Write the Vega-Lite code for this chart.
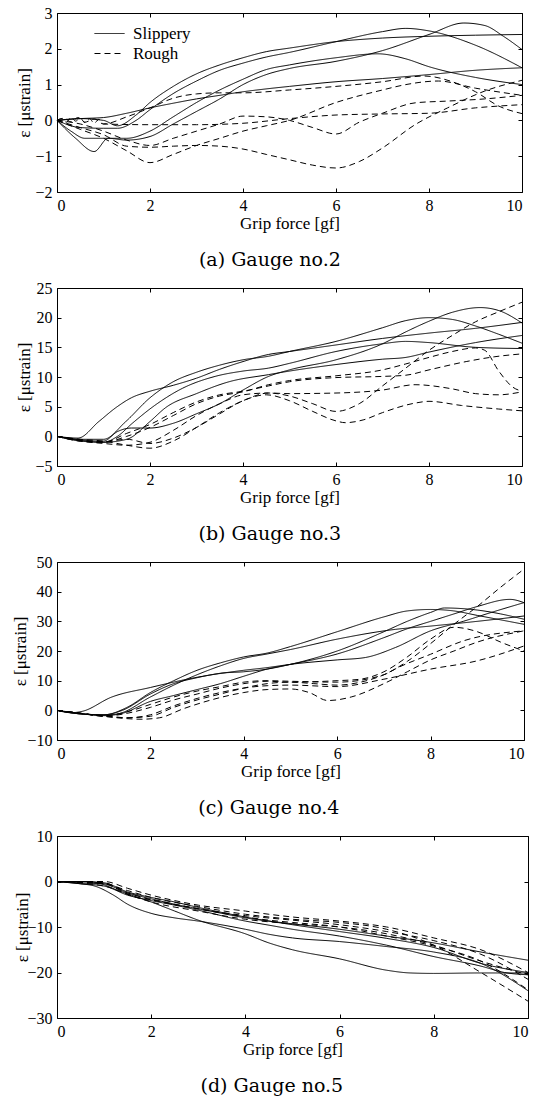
{
"$schema":"https://vega.github.io/schema/vega-lite/v6.json",
"background":"white",
"padding":{"left":10,"top":4,"right":5,"bottom":5},
"config":{
"font":"Liberation Serif",
"view":{"stroke":"black","strokeWidth":1},
"axis":{"grid":false,"domain":false,"tickColor":"black","tickSize":4,"offset":-4,"labelFont":"Liberation Serif","labelFontSize":16,"labelColor":"black","titleFont":"Liberation Serif","titleFontSize":17,"titleFontWeight":"normal","titleColor":"black","labelPadding":5},
"title":{"font":"DejaVu Serif","fontSize":19,"fontWeight":"normal","orient":"bottom","frame":"bounds","offset":20,"color":"black"},
"line":{"color":"black","strokeWidth":1,"interpolate":"monotone"}
},
"datasets":{
"p1":[
{"s":"a1","t":"Slippery","x":0,"y":0},{"s":"a1","t":"Slippery","x":0.4,"y":-0.5},{"s":"a1","t":"Slippery","x":0.8,"y":-0.87},{"s":"a1","t":"Slippery","x":1.1,"y":-0.5},{"s":"a1","t":"Slippery","x":1.5,"y":-0.55},{"s":"a1","t":"Slippery","x":2,"y":-0.45},{"s":"a1","t":"Slippery","x":2.5,"y":-0.1},{"s":"a1","t":"Slippery","x":3,"y":0.25},{"s":"a1","t":"Slippery","x":3.5,"y":0.6},{"s":"a1","t":"Slippery","x":4,"y":1.0},{"s":"a1","t":"Slippery","x":4.5,"y":1.28},{"s":"a1","t":"Slippery","x":5,"y":1.45},{"s":"a1","t":"Slippery","x":6,"y":1.65},{"s":"a1","t":"Slippery","x":7,"y":1.95},{"s":"a1","t":"Slippery","x":8,"y":2.4},{"s":"a1","t":"Slippery","x":8.75,"y":2.72},{"s":"a1","t":"Slippery","x":9.2,"y":2.65},{"s":"a1","t":"Slippery","x":9.6,"y":2.35},{"s":"a1","t":"Slippery","x":10,"y":1.98},
{"s":"a2","t":"Slippery","x":0,"y":0},{"s":"a2","t":"Slippery","x":0.5,"y":-0.2},{"s":"a2","t":"Slippery","x":1,"y":-0.22},{"s":"a2","t":"Slippery","x":1.3,"y":-0.22},{"s":"a2","t":"Slippery","x":1.7,"y":0.0},{"s":"a2","t":"Slippery","x":2,"y":0.3},{"s":"a2","t":"Slippery","x":2.5,"y":0.75},{"s":"a2","t":"Slippery","x":3,"y":1.1},{"s":"a2","t":"Slippery","x":3.5,"y":1.4},{"s":"a2","t":"Slippery","x":4,"y":1.6},{"s":"a2","t":"Slippery","x":4.5,"y":1.77},{"s":"a2","t":"Slippery","x":5,"y":1.9},{"s":"a2","t":"Slippery","x":6,"y":2.2},{"s":"a2","t":"Slippery","x":7,"y":2.48},{"s":"a2","t":"Slippery","x":7.5,"y":2.57},{"s":"a2","t":"Slippery","x":8,"y":2.5},{"s":"a2","t":"Slippery","x":9,"y":2.1},{"s":"a2","t":"Slippery","x":10,"y":1.47},
{"s":"a3","t":"Slippery","x":0,"y":0},{"s":"a3","t":"Slippery","x":0.5,"y":0.05},{"s":"a3","t":"Slippery","x":1,"y":0.0},{"s":"a3","t":"Slippery","x":1.3,"y":-0.15},{"s":"a3","t":"Slippery","x":1.7,"y":0.15},{"s":"a3","t":"Slippery","x":2,"y":0.5},{"s":"a3","t":"Slippery","x":2.5,"y":0.95},{"s":"a3","t":"Slippery","x":3,"y":1.3},{"s":"a3","t":"Slippery","x":3.5,"y":1.55},{"s":"a3","t":"Slippery","x":4,"y":1.75},{"s":"a3","t":"Slippery","x":4.5,"y":1.92},{"s":"a3","t":"Slippery","x":5,"y":2.02},{"s":"a3","t":"Slippery","x":6,"y":2.2},{"s":"a3","t":"Slippery","x":7,"y":2.3},{"s":"a3","t":"Slippery","x":8,"y":2.35},{"s":"a3","t":"Slippery","x":9,"y":2.38},{"s":"a3","t":"Slippery","x":10,"y":2.4},
{"s":"a4","t":"Slippery","x":0,"y":0},{"s":"a4","t":"Slippery","x":0.3,"y":-0.3},{"s":"a4","t":"Slippery","x":0.6,"y":-0.5},{"s":"a4","t":"Slippery","x":1,"y":-0.5},{"s":"a4","t":"Slippery","x":1.5,"y":-0.5},{"s":"a4","t":"Slippery","x":2,"y":-0.3},{"s":"a4","t":"Slippery","x":2.5,"y":0.1},{"s":"a4","t":"Slippery","x":3,"y":0.5},{"s":"a4","t":"Slippery","x":3.5,"y":0.85},{"s":"a4","t":"Slippery","x":4,"y":1.15},{"s":"a4","t":"Slippery","x":4.5,"y":1.42},{"s":"a4","t":"Slippery","x":5,"y":1.55},{"s":"a4","t":"Slippery","x":6,"y":1.75},{"s":"a4","t":"Slippery","x":6.9,"y":1.86},{"s":"a4","t":"Slippery","x":7.5,"y":1.72},{"s":"a4","t":"Slippery","x":8,"y":1.5},{"s":"a4","t":"Slippery","x":9,"y":1.2},{"s":"a4","t":"Slippery","x":10,"y":1.0},
{"s":"a5","t":"Slippery","x":0,"y":0},{"s":"a5","t":"Slippery","x":0.5,"y":0.05},{"s":"a5","t":"Slippery","x":1,"y":0.08},{"s":"a5","t":"Slippery","x":1.5,"y":0.2},{"s":"a5","t":"Slippery","x":2,"y":0.35},{"s":"a5","t":"Slippery","x":2.5,"y":0.48},{"s":"a5","t":"Slippery","x":3,"y":0.6},{"s":"a5","t":"Slippery","x":3.5,"y":0.7},{"s":"a5","t":"Slippery","x":4,"y":0.8},{"s":"a5","t":"Slippery","x":4.5,"y":0.88},{"s":"a5","t":"Slippery","x":5,"y":0.95},{"s":"a5","t":"Slippery","x":6,"y":1.08},{"s":"a5","t":"Slippery","x":7,"y":1.17},{"s":"a5","t":"Slippery","x":8,"y":1.28},{"s":"a5","t":"Slippery","x":9,"y":1.4},{"s":"a5","t":"Slippery","x":10,"y":1.47},
{"s":"b1","t":"Rough","x":0,"y":0},{"s":"b1","t":"Rough","x":0.15,"y":0.06},{"s":"b1","t":"Rough","x":0.3,"y":-0.04},{"s":"b1","t":"Rough","x":0.45,"y":0.08},{"s":"b1","t":"Rough","x":0.6,"y":-0.05},{"s":"b1","t":"Rough","x":0.8,"y":0.04},{"s":"b1","t":"Rough","x":1,"y":-0.1},{"s":"b1","t":"Rough","x":1.5,"y":0.1},{"s":"b1","t":"Rough","x":2,"y":0.35},{"s":"b1","t":"Rough","x":2.5,"y":0.62},{"s":"b1","t":"Rough","x":3,"y":0.74},{"s":"b1","t":"Rough","x":3.5,"y":0.77},{"s":"b1","t":"Rough","x":4,"y":0.77},{"s":"b1","t":"Rough","x":5,"y":0.85},{"s":"b1","t":"Rough","x":6,"y":0.95},{"s":"b1","t":"Rough","x":7,"y":1.08},{"s":"b1","t":"Rough","x":7.9,"y":1.24},{"s":"b1","t":"Rough","x":8.5,"y":1.08},{"s":"b1","t":"Rough","x":9,"y":0.8},{"s":"b1","t":"Rough","x":9.5,"y":0.4},{"s":"b1","t":"Rough","x":10,"y":0.19},
{"s":"b2","t":"Rough","x":0,"y":0},{"s":"b2","t":"Rough","x":0.5,"y":-0.25},{"s":"b2","t":"Rough","x":1,"y":-0.5},{"s":"b2","t":"Rough","x":1.5,"y":-0.85},{"s":"b2","t":"Rough","x":2,"y":-1.18},{"s":"b2","t":"Rough","x":2.5,"y":-0.95},{"s":"b2","t":"Rough","x":3,"y":-0.7},{"s":"b2","t":"Rough","x":3.5,"y":-0.5},{"s":"b2","t":"Rough","x":4,"y":-0.3},{"s":"b2","t":"Rough","x":4.5,"y":-0.15},{"s":"b2","t":"Rough","x":5,"y":0.0},{"s":"b2","t":"Rough","x":6,"y":0.5},{"s":"b2","t":"Rough","x":7,"y":0.85},{"s":"b2","t":"Rough","x":7.5,"y":1.0},{"s":"b2","t":"Rough","x":8.2,"y":1.1},{"s":"b2","t":"Rough","x":9,"y":0.9},{"s":"b2","t":"Rough","x":10,"y":0.7},
{"s":"b3","t":"Rough","x":0,"y":0},{"s":"b3","t":"Rough","x":0.5,"y":-0.1},{"s":"b3","t":"Rough","x":1,"y":-0.3},{"s":"b3","t":"Rough","x":1.5,"y":-0.55},{"s":"b3","t":"Rough","x":2,"y":-0.7},{"s":"b3","t":"Rough","x":2.5,"y":-0.5},{"s":"b3","t":"Rough","x":3,"y":-0.3},{"s":"b3","t":"Rough","x":3.5,"y":-0.1},{"s":"b3","t":"Rough","x":4,"y":0.12},{"s":"b3","t":"Rough","x":4.5,"y":0.1},{"s":"b3","t":"Rough","x":5,"y":0.0},{"s":"b3","t":"Rough","x":5.5,"y":-0.2},{"s":"b3","t":"Rough","x":6,"y":-0.38},{"s":"b3","t":"Rough","x":6.5,"y":-0.05},{"s":"b3","t":"Rough","x":7,"y":0.2},{"s":"b3","t":"Rough","x":7.7,"y":0.49},{"s":"b3","t":"Rough","x":8.4,"y":0.54},{"s":"b3","t":"Rough","x":9.2,"y":0.6},{"s":"b3","t":"Rough","x":10,"y":0.7},
{"s":"b4","t":"Rough","x":0,"y":0},{"s":"b4","t":"Rough","x":0.1,"y":0.05},{"s":"b4","t":"Rough","x":0.2,"y":-0.05},{"s":"b4","t":"Rough","x":0.3,"y":0.08},{"s":"b4","t":"Rough","x":0.4,"y":-0.02},{"s":"b4","t":"Rough","x":0.5,"y":0.06},{"s":"b4","t":"Rough","x":0.6,"y":-0.06},{"s":"b4","t":"Rough","x":0.7,"y":0.05},{"s":"b4","t":"Rough","x":0.8,"y":-0.08},{"s":"b4","t":"Rough","x":0.9,"y":0.03},{"s":"b4","t":"Rough","x":1,"y":-0.1},{"s":"b4","t":"Rough","x":2,"y":-0.12},{"s":"b4","t":"Rough","x":3,"y":-0.12},{"s":"b4","t":"Rough","x":4,"y":-0.08},{"s":"b4","t":"Rough","x":5,"y":0.05},{"s":"b4","t":"Rough","x":6,"y":0.15},{"s":"b4","t":"Rough","x":7,"y":0.18},{"s":"b4","t":"Rough","x":8,"y":0.2},{"s":"b4","t":"Rough","x":9,"y":0.35},{"s":"b4","t":"Rough","x":10,"y":0.44},
{"s":"b5","t":"Rough","x":0,"y":0},{"s":"b5","t":"Rough","x":0.5,"y":-0.2},{"s":"b5","t":"Rough","x":1,"y":-0.4},{"s":"b5","t":"Rough","x":1.5,"y":-0.72},{"s":"b5","t":"Rough","x":2,"y":-0.75},{"s":"b5","t":"Rough","x":2.5,"y":-0.72},{"s":"b5","t":"Rough","x":3,"y":-0.7},{"s":"b5","t":"Rough","x":3.5,"y":-0.72},{"s":"b5","t":"Rough","x":4,"y":-0.8},{"s":"b5","t":"Rough","x":4.5,"y":-0.95},{"s":"b5","t":"Rough","x":5,"y":-1.1},{"s":"b5","t":"Rough","x":5.5,"y":-1.25},{"s":"b5","t":"Rough","x":6,"y":-1.33},{"s":"b5","t":"Rough","x":6.5,"y":-1.15},{"s":"b5","t":"Rough","x":7,"y":-0.77},{"s":"b5","t":"Rough","x":7.7,"y":-0.12},{"s":"b5","t":"Rough","x":8.4,"y":0.35},{"s":"b5","t":"Rough","x":9.2,"y":0.82},{"s":"b5","t":"Rough","x":10,"y":1.12}
],
"p2":[
{"s":"a1","t":"Slippery","x":0,"y":0},{"s":"a1","t":"Slippery","x":0.5,"y":-0.5},{"s":"a1","t":"Slippery","x":1,"y":-0.5},{"s":"a1","t":"Slippery","x":1.48,"y":2.5},{"s":"a1","t":"Slippery","x":2,"y":6.5},{"s":"a1","t":"Slippery","x":2.5,"y":9.2},{"s":"a1","t":"Slippery","x":3,"y":10.8},{"s":"a1","t":"Slippery","x":3.5,"y":12},{"s":"a1","t":"Slippery","x":4,"y":12.9},{"s":"a1","t":"Slippery","x":4.55,"y":13.5},{"s":"a1","t":"Slippery","x":5,"y":14.3},{"s":"a1","t":"Slippery","x":6,"y":16.0},{"s":"a1","t":"Slippery","x":7,"y":18.3},{"s":"a1","t":"Slippery","x":7.5,"y":19.5},{"s":"a1","t":"Slippery","x":8,"y":20.0},{"s":"a1","t":"Slippery","x":8.5,"y":19.7},{"s":"a1","t":"Slippery","x":9,"y":18.6},{"s":"a1","t":"Slippery","x":9.5,"y":17.2},{"s":"a1","t":"Slippery","x":10,"y":15.7},
{"s":"a2","t":"Slippery","x":0,"y":0},{"s":"a2","t":"Slippery","x":0.5,"y":-0.6},{"s":"a2","t":"Slippery","x":1,"y":-0.8},{"s":"a2","t":"Slippery","x":1.3,"y":0.8},{"s":"a2","t":"Slippery","x":1.6,"y":1.4},{"s":"a2","t":"Slippery","x":2,"y":1.4},{"s":"a2","t":"Slippery","x":2.5,"y":2.2},{"s":"a2","t":"Slippery","x":3,"y":3.8},{"s":"a2","t":"Slippery","x":3.5,"y":5.5},{"s":"a2","t":"Slippery","x":4,"y":7.8},{"s":"a2","t":"Slippery","x":4.55,"y":10.1},{"s":"a2","t":"Slippery","x":5,"y":11.2},{"s":"a2","t":"Slippery","x":6,"y":12.9},{"s":"a2","t":"Slippery","x":7,"y":15.6},{"s":"a2","t":"Slippery","x":7.5,"y":17.6},{"s":"a2","t":"Slippery","x":8,"y":19.4},{"s":"a2","t":"Slippery","x":8.5,"y":20.9},{"s":"a2","t":"Slippery","x":9.1,"y":21.7},{"s":"a2","t":"Slippery","x":9.5,"y":21.2},{"s":"a2","t":"Slippery","x":10,"y":19.1},
{"s":"a3","t":"Slippery","x":0,"y":0},{"s":"a3","t":"Slippery","x":0.45,"y":-0.3},{"s":"a3","t":"Slippery","x":0.9,"y":2.5},{"s":"a3","t":"Slippery","x":1.26,"y":4.8},{"s":"a3","t":"Slippery","x":1.6,"y":6.5},{"s":"a3","t":"Slippery","x":2,"y":7.6},{"s":"a3","t":"Slippery","x":2.5,"y":8.6},{"s":"a3","t":"Slippery","x":3,"y":9.8},{"s":"a3","t":"Slippery","x":3.5,"y":11.3},{"s":"a3","t":"Slippery","x":4,"y":12.6},{"s":"a3","t":"Slippery","x":4.55,"y":13.8},{"s":"a3","t":"Slippery","x":5,"y":14.3},{"s":"a3","t":"Slippery","x":6,"y":15.4},{"s":"a3","t":"Slippery","x":7,"y":16.5},{"s":"a3","t":"Slippery","x":8,"y":17.4},{"s":"a3","t":"Slippery","x":9,"y":18.2},{"s":"a3","t":"Slippery","x":10,"y":19.2},
{"s":"a4","t":"Slippery","x":0,"y":0},{"s":"a4","t":"Slippery","x":0.5,"y":-0.8},{"s":"a4","t":"Slippery","x":1,"y":-1.0},{"s":"a4","t":"Slippery","x":1.3,"y":0},{"s":"a4","t":"Slippery","x":1.62,"y":2.2},{"s":"a4","t":"Slippery","x":2.1,"y":5.2},{"s":"a4","t":"Slippery","x":2.7,"y":8.1},{"s":"a4","t":"Slippery","x":3.4,"y":10.1},{"s":"a4","t":"Slippery","x":4,"y":11},{"s":"a4","t":"Slippery","x":4.55,"y":11.5},{"s":"a4","t":"Slippery","x":5,"y":12.3},{"s":"a4","t":"Slippery","x":6,"y":14.3},{"s":"a4","t":"Slippery","x":7,"y":15.6},{"s":"a4","t":"Slippery","x":7.5,"y":16.0},{"s":"a4","t":"Slippery","x":8,"y":15.8},{"s":"a4","t":"Slippery","x":9,"y":15.0},{"s":"a4","t":"Slippery","x":10,"y":14.8},
{"s":"a5","t":"Slippery","x":0,"y":0},{"s":"a5","t":"Slippery","x":0.5,"y":-0.7},{"s":"a5","t":"Slippery","x":1,"y":-1.0},{"s":"a5","t":"Slippery","x":1.5,"y":-0.5},{"s":"a5","t":"Slippery","x":2,"y":2.5},{"s":"a5","t":"Slippery","x":2.33,"y":4.8},{"s":"a5","t":"Slippery","x":3,"y":7.2},{"s":"a5","t":"Slippery","x":3.7,"y":9.2},{"s":"a5","t":"Slippery","x":4.55,"y":10.4},{"s":"a5","t":"Slippery","x":5,"y":11.0},{"s":"a5","t":"Slippery","x":6,"y":12.1},{"s":"a5","t":"Slippery","x":7,"y":13.0},{"s":"a5","t":"Slippery","x":7.5,"y":13.3},{"s":"a5","t":"Slippery","x":8,"y":14.2},{"s":"a5","t":"Slippery","x":9,"y":15.8},{"s":"a5","t":"Slippery","x":10,"y":17.0},
{"s":"b1","t":"Rough","x":0,"y":0},{"s":"b1","t":"Rough","x":0.5,"y":-0.5},{"s":"b1","t":"Rough","x":1,"y":-0.8},{"s":"b1","t":"Rough","x":1.5,"y":-1.5},{"s":"b1","t":"Rough","x":2,"y":-2.0},{"s":"b1","t":"Rough","x":2.5,"y":-0.8},{"s":"b1","t":"Rough","x":3,"y":1.5},{"s":"b1","t":"Rough","x":3.5,"y":4.0},{"s":"b1","t":"Rough","x":4,"y":6.0},{"s":"b1","t":"Rough","x":4.55,"y":7.3},{"s":"b1","t":"Rough","x":5,"y":6.8},{"s":"b1","t":"Rough","x":5.5,"y":5.5},{"s":"b1","t":"Rough","x":6,"y":4.2},{"s":"b1","t":"Rough","x":6.5,"y":5.5},{"s":"b1","t":"Rough","x":7,"y":8.5},{"s":"b1","t":"Rough","x":7.5,"y":11.5},{"s":"b1","t":"Rough","x":8,"y":14.5},{"s":"b1","t":"Rough","x":8.5,"y":17},{"s":"b1","t":"Rough","x":9,"y":19.3},{"s":"b1","t":"Rough","x":9.5,"y":21},{"s":"b1","t":"Rough","x":10,"y":22.6},
{"s":"b2","t":"Rough","x":0,"y":0},{"s":"b2","t":"Rough","x":0.5,"y":-0.6},{"s":"b2","t":"Rough","x":1,"y":-0.9},{"s":"b2","t":"Rough","x":1.5,"y":-0.5},{"s":"b2","t":"Rough","x":2,"y":-1.2},{"s":"b2","t":"Rough","x":2.5,"y":-0.3},{"s":"b2","t":"Rough","x":3,"y":1.5},{"s":"b2","t":"Rough","x":3.5,"y":3.8},{"s":"b2","t":"Rough","x":4,"y":6.0},{"s":"b2","t":"Rough","x":4.5,"y":7.0},{"s":"b2","t":"Rough","x":5,"y":6.0},{"s":"b2","t":"Rough","x":5.5,"y":4.2},{"s":"b2","t":"Rough","x":6,"y":2.6},{"s":"b2","t":"Rough","x":6.2,"y":2.3},{"s":"b2","t":"Rough","x":6.6,"y":2.8},{"s":"b2","t":"Rough","x":7,"y":4.0},{"s":"b2","t":"Rough","x":7.7,"y":5.6},{"s":"b2","t":"Rough","x":8,"y":5.9},{"s":"b2","t":"Rough","x":8.7,"y":5.2},{"s":"b2","t":"Rough","x":9.5,"y":4.6},{"s":"b2","t":"Rough","x":10,"y":4.3},
{"s":"b3","t":"Rough","x":0,"y":0},{"s":"b3","t":"Rough","x":0.5,"y":-0.7},{"s":"b3","t":"Rough","x":1,"y":-1.0},{"s":"b3","t":"Rough","x":1.5,"y":0},{"s":"b3","t":"Rough","x":2,"y":1.5},{"s":"b3","t":"Rough","x":2.5,"y":3.5},{"s":"b3","t":"Rough","x":3,"y":5.5},{"s":"b3","t":"Rough","x":3.5,"y":6.8},{"s":"b3","t":"Rough","x":4,"y":7.5},{"s":"b3","t":"Rough","x":4.55,"y":8.7},{"s":"b3","t":"Rough","x":5,"y":9.4},{"s":"b3","t":"Rough","x":6,"y":10.2},{"s":"b3","t":"Rough","x":7,"y":11.2},{"s":"b3","t":"Rough","x":7.5,"y":12.2},{"s":"b3","t":"Rough","x":8,"y":13.3},{"s":"b3","t":"Rough","x":8.5,"y":14.3},{"s":"b3","t":"Rough","x":9,"y":14.9},{"s":"b3","t":"Rough","x":9.2,"y":14.5},{"s":"b3","t":"Rough","x":9.5,"y":11},{"s":"b3","t":"Rough","x":9.8,"y":8.3},{"s":"b3","t":"Rough","x":10,"y":7.6},
{"s":"b4","t":"Rough","x":0,"y":0},{"s":"b4","t":"Rough","x":0.5,"y":-0.8},{"s":"b4","t":"Rough","x":1,"y":-1.2},{"s":"b4","t":"Rough","x":1.5,"y":-1.5},{"s":"b4","t":"Rough","x":2,"y":-1.0},{"s":"b4","t":"Rough","x":2.5,"y":1.0},{"s":"b4","t":"Rough","x":3,"y":3.5},{"s":"b4","t":"Rough","x":3.5,"y":5.5},{"s":"b4","t":"Rough","x":4,"y":7.0},{"s":"b4","t":"Rough","x":4.55,"y":7.3},{"s":"b4","t":"Rough","x":5,"y":7.2},{"s":"b4","t":"Rough","x":6,"y":7.3},{"s":"b4","t":"Rough","x":7,"y":7.8},{"s":"b4","t":"Rough","x":7.7,"y":8.7},{"s":"b4","t":"Rough","x":8.5,"y":8.0},{"s":"b4","t":"Rough","x":9,"y":7.2},{"s":"b4","t":"Rough","x":9.5,"y":7.0},{"s":"b4","t":"Rough","x":10,"y":7.5},
{"s":"b5","t":"Rough","x":0,"y":0},{"s":"b5","t":"Rough","x":0.5,"y":-0.8},{"s":"b5","t":"Rough","x":1,"y":-1.0},{"s":"b5","t":"Rough","x":1.5,"y":0.5},{"s":"b5","t":"Rough","x":2,"y":2.0},{"s":"b5","t":"Rough","x":2.5,"y":4.0},{"s":"b5","t":"Rough","x":3,"y":5.8},{"s":"b5","t":"Rough","x":3.5,"y":7.0},{"s":"b5","t":"Rough","x":4,"y":7.6},{"s":"b5","t":"Rough","x":4.55,"y":8.5},{"s":"b5","t":"Rough","x":5,"y":9.2},{"s":"b5","t":"Rough","x":6,"y":9.9},{"s":"b5","t":"Rough","x":7,"y":10.1},{"s":"b5","t":"Rough","x":7.5,"y":10.3},{"s":"b5","t":"Rough","x":8,"y":11.2},{"s":"b5","t":"Rough","x":8.8,"y":12.6},{"s":"b5","t":"Rough","x":9.4,"y":13.4},{"s":"b5","t":"Rough","x":10,"y":13.9}
],
"p3":[
{"s":"a1","t":"Slippery","x":0,"y":0},{"s":"a1","t":"Slippery","x":0.5,"y":-1.2},{"s":"a1","t":"Slippery","x":1,"y":-1.5},{"s":"a1","t":"Slippery","x":1.5,"y":1},{"s":"a1","t":"Slippery","x":2,"y":6},{"s":"a1","t":"Slippery","x":2.5,"y":10},{"s":"a1","t":"Slippery","x":3,"y":13.5},{"s":"a1","t":"Slippery","x":3.5,"y":16},{"s":"a1","t":"Slippery","x":4,"y":18},{"s":"a1","t":"Slippery","x":4.5,"y":19.3},{"s":"a1","t":"Slippery","x":5,"y":21.5},{"s":"a1","t":"Slippery","x":6,"y":26.5},{"s":"a1","t":"Slippery","x":7,"y":31.5},{"s":"a1","t":"Slippery","x":7.5,"y":33.5},{"s":"a1","t":"Slippery","x":8,"y":34},{"s":"a1","t":"Slippery","x":8.5,"y":33.5},{"s":"a1","t":"Slippery","x":9,"y":32},{"s":"a1","t":"Slippery","x":10,"y":29},
{"s":"a2","t":"Slippery","x":0,"y":0},{"s":"a2","t":"Slippery","x":0.5,"y":-1.2},{"s":"a2","t":"Slippery","x":1,"y":-1.6},{"s":"a2","t":"Slippery","x":1.3,"y":-1.2},{"s":"a2","t":"Slippery","x":2,"y":4.5},{"s":"a2","t":"Slippery","x":2.5,"y":8.5},{"s":"a2","t":"Slippery","x":3,"y":12},{"s":"a2","t":"Slippery","x":3.5,"y":15},{"s":"a2","t":"Slippery","x":4,"y":17.5},{"s":"a2","t":"Slippery","x":4.5,"y":19},{"s":"a2","t":"Slippery","x":5,"y":20.5},{"s":"a2","t":"Slippery","x":6,"y":24},{"s":"a2","t":"Slippery","x":7.25,"y":27.3},{"s":"a2","t":"Slippery","x":8,"y":28.4},{"s":"a2","t":"Slippery","x":9,"y":30},{"s":"a2","t":"Slippery","x":10,"y":31.8},
{"s":"a3","t":"Slippery","x":0,"y":0},{"s":"a3","t":"Slippery","x":0.3,"y":-0.8},{"s":"a3","t":"Slippery","x":0.55,"y":-0.3},{"s":"a3","t":"Slippery","x":1.16,"y":4.4},{"s":"a3","t":"Slippery","x":2,"y":7.7},{"s":"a3","t":"Slippery","x":2.95,"y":11},{"s":"a3","t":"Slippery","x":4,"y":13.5},{"s":"a3","t":"Slippery","x":4.5,"y":14.4},{"s":"a3","t":"Slippery","x":5,"y":15.5},{"s":"a3","t":"Slippery","x":6,"y":17},{"s":"a3","t":"Slippery","x":6.6,"y":17.8},{"s":"a3","t":"Slippery","x":7.25,"y":21.2},{"s":"a3","t":"Slippery","x":8,"y":26.8},{"s":"a3","t":"Slippery","x":8.7,"y":30},{"s":"a3","t":"Slippery","x":9.3,"y":33},{"s":"a3","t":"Slippery","x":10,"y":36.3},
{"s":"a4","t":"Slippery","x":0,"y":0},{"s":"a4","t":"Slippery","x":0.5,"y":-1},{"s":"a4","t":"Slippery","x":1,"y":-1.8},{"s":"a4","t":"Slippery","x":1.4,"y":-1},{"s":"a4","t":"Slippery","x":2,"y":3},{"s":"a4","t":"Slippery","x":2.5,"y":5},{"s":"a4","t":"Slippery","x":3,"y":7},{"s":"a4","t":"Slippery","x":3.5,"y":9},{"s":"a4","t":"Slippery","x":4,"y":11.5},{"s":"a4","t":"Slippery","x":4.5,"y":13.9},{"s":"a4","t":"Slippery","x":5,"y":15.5},{"s":"a4","t":"Slippery","x":6,"y":19},{"s":"a4","t":"Slippery","x":7,"y":24.5},{"s":"a4","t":"Slippery","x":7.5,"y":27.5},{"s":"a4","t":"Slippery","x":8,"y":30},{"s":"a4","t":"Slippery","x":8.5,"y":32.5},{"s":"a4","t":"Slippery","x":9,"y":35},{"s":"a4","t":"Slippery","x":9.7,"y":37.4},{"s":"a4","t":"Slippery","x":10,"y":36.3},
{"s":"a5","t":"Slippery","x":0,"y":0},{"s":"a5","t":"Slippery","x":0.5,"y":-1.2},{"s":"a5","t":"Slippery","x":1,"y":-1.5},{"s":"a5","t":"Slippery","x":1.4,"y":0},{"s":"a5","t":"Slippery","x":2,"y":5.5},{"s":"a5","t":"Slippery","x":2.5,"y":9},{"s":"a5","t":"Slippery","x":3,"y":11},{"s":"a5","t":"Slippery","x":3.5,"y":12.5},{"s":"a5","t":"Slippery","x":4,"y":13},{"s":"a5","t":"Slippery","x":4.5,"y":13.9},{"s":"a5","t":"Slippery","x":5,"y":15.5},{"s":"a5","t":"Slippery","x":6,"y":20},{"s":"a5","t":"Slippery","x":7,"y":26.5},{"s":"a5","t":"Slippery","x":7.5,"y":30},{"s":"a5","t":"Slippery","x":8,"y":33},{"s":"a5","t":"Slippery","x":8.3,"y":34.5},{"s":"a5","t":"Slippery","x":9,"y":33.8},{"s":"a5","t":"Slippery","x":9.5,"y":32.5},{"s":"a5","t":"Slippery","x":10,"y":30.7},
{"s":"b1","t":"Rough","x":0,"y":0},{"s":"b1","t":"Rough","x":0.5,"y":-1},{"s":"b1","t":"Rough","x":1,"y":-2},{"s":"b1","t":"Rough","x":1.5,"y":-2.8},{"s":"b1","t":"Rough","x":1.8,"y":-3},{"s":"b1","t":"Rough","x":2.2,"y":-2.5},{"s":"b1","t":"Rough","x":2.7,"y":0.5},{"s":"b1","t":"Rough","x":3.3,"y":3.5},{"s":"b1","t":"Rough","x":4,"y":6},{"s":"b1","t":"Rough","x":4.5,"y":7},{"s":"b1","t":"Rough","x":5,"y":7.2},{"s":"b1","t":"Rough","x":5.4,"y":6},{"s":"b1","t":"Rough","x":5.8,"y":3.3},{"s":"b1","t":"Rough","x":6.3,"y":4.5},{"s":"b1","t":"Rough","x":7,"y":9},{"s":"b1","t":"Rough","x":7.5,"y":13},{"s":"b1","t":"Rough","x":8,"y":17},{"s":"b1","t":"Rough","x":8.5,"y":20},{"s":"b1","t":"Rough","x":9,"y":23},{"s":"b1","t":"Rough","x":10,"y":26.8},
{"s":"b2","t":"Rough","x":0,"y":0},{"s":"b2","t":"Rough","x":0.5,"y":-1},{"s":"b2","t":"Rough","x":1,"y":-1.8},{"s":"b2","t":"Rough","x":1.5,"y":-2.5},{"s":"b2","t":"Rough","x":2,"y":-2},{"s":"b2","t":"Rough","x":2.5,"y":1},{"s":"b2","t":"Rough","x":3,"y":3.5},{"s":"b2","t":"Rough","x":3.5,"y":5.5},{"s":"b2","t":"Rough","x":4,"y":7.5},{"s":"b2","t":"Rough","x":4.5,"y":9},{"s":"b2","t":"Rough","x":5,"y":9.5},{"s":"b2","t":"Rough","x":5.5,"y":9},{"s":"b2","t":"Rough","x":6,"y":8.5},{"s":"b2","t":"Rough","x":6.5,"y":9.5},{"s":"b2","t":"Rough","x":7,"y":12},{"s":"b2","t":"Rough","x":7.5,"y":16.5},{"s":"b2","t":"Rough","x":8,"y":22.5},{"s":"b2","t":"Rough","x":8.5,"y":29},{"s":"b2","t":"Rough","x":9,"y":35},{"s":"b2","t":"Rough","x":9.5,"y":41.5},{"s":"b2","t":"Rough","x":10,"y":47.6},
{"s":"b3","t":"Rough","x":0,"y":0},{"s":"b3","t":"Rough","x":0.5,"y":-1},{"s":"b3","t":"Rough","x":1,"y":-2},{"s":"b3","t":"Rough","x":1.5,"y":-1},{"s":"b3","t":"Rough","x":2,"y":1},{"s":"b3","t":"Rough","x":2.5,"y":3.5},{"s":"b3","t":"Rough","x":3,"y":5.5},{"s":"b3","t":"Rough","x":3.5,"y":7.5},{"s":"b3","t":"Rough","x":4,"y":9},{"s":"b3","t":"Rough","x":4.5,"y":9.8},{"s":"b3","t":"Rough","x":5,"y":9.5},{"s":"b3","t":"Rough","x":6,"y":10},{"s":"b3","t":"Rough","x":6.5,"y":10.5},{"s":"b3","t":"Rough","x":7,"y":13},{"s":"b3","t":"Rough","x":7.5,"y":18},{"s":"b3","t":"Rough","x":8,"y":24},{"s":"b3","t":"Rough","x":8.5,"y":28},{"s":"b3","t":"Rough","x":9,"y":26.5},{"s":"b3","t":"Rough","x":9.5,"y":23},{"s":"b3","t":"Rough","x":10,"y":20},
{"s":"b4","t":"Rough","x":0,"y":0},{"s":"b4","t":"Rough","x":0.5,"y":-1},{"s":"b4","t":"Rough","x":1,"y":-2},{"s":"b4","t":"Rough","x":1.5,"y":-2.5},{"s":"b4","t":"Rough","x":2,"y":-1.5},{"s":"b4","t":"Rough","x":2.5,"y":1.5},{"s":"b4","t":"Rough","x":3,"y":4},{"s":"b4","t":"Rough","x":3.5,"y":6},{"s":"b4","t":"Rough","x":4,"y":7.5},{"s":"b4","t":"Rough","x":4.5,"y":8.3},{"s":"b4","t":"Rough","x":5,"y":8.5},{"s":"b4","t":"Rough","x":6,"y":8},{"s":"b4","t":"Rough","x":7,"y":10.5},{"s":"b4","t":"Rough","x":8,"y":13.9},{"s":"b4","t":"Rough","x":9,"y":16.7},{"s":"b4","t":"Rough","x":10,"y":21.7},
{"s":"b5","t":"Rough","x":0,"y":0},{"s":"b5","t":"Rough","x":0.5,"y":-1},{"s":"b5","t":"Rough","x":1,"y":-1.8},{"s":"b5","t":"Rough","x":1.5,"y":-0.5},{"s":"b5","t":"Rough","x":2,"y":2},{"s":"b5","t":"Rough","x":2.5,"y":4.5},{"s":"b5","t":"Rough","x":3,"y":6.5},{"s":"b5","t":"Rough","x":3.5,"y":8},{"s":"b5","t":"Rough","x":4,"y":9.5},{"s":"b5","t":"Rough","x":4.5,"y":10},{"s":"b5","t":"Rough","x":5,"y":9.8},{"s":"b5","t":"Rough","x":6,"y":9.5},{"s":"b5","t":"Rough","x":7,"y":12},{"s":"b5","t":"Rough","x":7.3,"y":14.4},{"s":"b5","t":"Rough","x":8,"y":18.9},{"s":"b5","t":"Rough","x":8.7,"y":23.4},{"s":"b5","t":"Rough","x":10,"y":26.8}
],
"p4":[
{"s":"a1","t":"Slippery","x":0,"y":0},{"s":"a1","t":"Slippery","x":0.5,"y":-0.5},{"s":"a1","t":"Slippery","x":0.8,"y":-1},{"s":"a1","t":"Slippery","x":1.2,"y":-3},{"s":"a1","t":"Slippery","x":1.5,"y":-5},{"s":"a1","t":"Slippery","x":2,"y":-7},{"s":"a1","t":"Slippery","x":2.5,"y":-8},{"s":"a1","t":"Slippery","x":3,"y":-8.7},{"s":"a1","t":"Slippery","x":4,"y":-10.5},{"s":"a1","t":"Slippery","x":4.5,"y":-11.6},{"s":"a1","t":"Slippery","x":5,"y":-12.4},{"s":"a1","t":"Slippery","x":6,"y":-13.2},{"s":"a1","t":"Slippery","x":7,"y":-14.3},{"s":"a1","t":"Slippery","x":8,"y":-15.5},{"s":"a1","t":"Slippery","x":9,"y":-18},{"s":"a1","t":"Slippery","x":10,"y":-24},
{"s":"a2","t":"Slippery","x":0,"y":0},{"s":"a2","t":"Slippery","x":0.5,"y":-0.3},{"s":"a2","t":"Slippery","x":0.9,"y":-0.5},{"s":"a2","t":"Slippery","x":1.3,"y":-2},{"s":"a2","t":"Slippery","x":2,"y":-4.5},{"s":"a2","t":"Slippery","x":2.5,"y":-6.5},{"s":"a2","t":"Slippery","x":3,"y":-8.5},{"s":"a2","t":"Slippery","x":4,"y":-11.5},{"s":"a2","t":"Slippery","x":4.5,"y":-13.5},{"s":"a2","t":"Slippery","x":5,"y":-15},{"s":"a2","t":"Slippery","x":6,"y":-17},{"s":"a2","t":"Slippery","x":7,"y":-19.5},{"s":"a2","t":"Slippery","x":7.5,"y":-20.1},{"s":"a2","t":"Slippery","x":8,"y":-20.2},{"s":"a2","t":"Slippery","x":9,"y":-20.1},{"s":"a2","t":"Slippery","x":10,"y":-20.1},
{"s":"a3","t":"Slippery","x":0,"y":0},{"s":"a3","t":"Slippery","x":0.5,"y":0},{"s":"a3","t":"Slippery","x":1,"y":-0.5},{"s":"a3","t":"Slippery","x":1.5,"y":-2.5},{"s":"a3","t":"Slippery","x":2,"y":-3.8},{"s":"a3","t":"Slippery","x":2.5,"y":-5},{"s":"a3","t":"Slippery","x":3,"y":-6},{"s":"a3","t":"Slippery","x":3.5,"y":-7},{"s":"a3","t":"Slippery","x":4,"y":-8},{"s":"a3","t":"Slippery","x":4.5,"y":-8.7},{"s":"a3","t":"Slippery","x":5,"y":-9.3},{"s":"a3","t":"Slippery","x":6,"y":-10.5},{"s":"a3","t":"Slippery","x":7,"y":-12},{"s":"a3","t":"Slippery","x":8,"y":-13.5},{"s":"a3","t":"Slippery","x":9,"y":-15.5},{"s":"a3","t":"Slippery","x":10,"y":-17.3},
{"s":"a4","t":"Slippery","x":0,"y":0},{"s":"a4","t":"Slippery","x":0.5,"y":0},{"s":"a4","t":"Slippery","x":1,"y":-0.3},{"s":"a4","t":"Slippery","x":1.5,"y":-2.3},{"s":"a4","t":"Slippery","x":2,"y":-3.5},{"s":"a4","t":"Slippery","x":2.5,"y":-4.5},{"s":"a4","t":"Slippery","x":3,"y":-5.7},{"s":"a4","t":"Slippery","x":3.5,"y":-6.8},{"s":"a4","t":"Slippery","x":4,"y":-7.8},{"s":"a4","t":"Slippery","x":4.5,"y":-8.7},{"s":"a4","t":"Slippery","x":5,"y":-9.5},{"s":"a4","t":"Slippery","x":6,"y":-11},{"s":"a4","t":"Slippery","x":7,"y":-12.5},{"s":"a4","t":"Slippery","x":8,"y":-14.5},{"s":"a4","t":"Slippery","x":9,"y":-18},{"s":"a4","t":"Slippery","x":10,"y":-20},
{"s":"a5","t":"Slippery","x":0,"y":0},{"s":"a5","t":"Slippery","x":0.5,"y":-0.5},{"s":"a5","t":"Slippery","x":1,"y":-1},{"s":"a5","t":"Slippery","x":1.5,"y":-3},{"s":"a5","t":"Slippery","x":2,"y":-4.2},{"s":"a5","t":"Slippery","x":2.5,"y":-5.2},{"s":"a5","t":"Slippery","x":3,"y":-6.3},{"s":"a5","t":"Slippery","x":4,"y":-8.7},{"s":"a5","t":"Slippery","x":4.5,"y":-9.6},{"s":"a5","t":"Slippery","x":5,"y":-10.5},{"s":"a5","t":"Slippery","x":6,"y":-12},{"s":"a5","t":"Slippery","x":7,"y":-14},{"s":"a5","t":"Slippery","x":8,"y":-16.5},{"s":"a5","t":"Slippery","x":9,"y":-18.6},{"s":"a5","t":"Slippery","x":9.5,"y":-20},{"s":"a5","t":"Slippery","x":10,"y":-20.5},
{"s":"b1","t":"Rough","x":0,"y":0},{"s":"b1","t":"Rough","x":1,"y":0},{"s":"b1","t":"Rough","x":1.5,"y":-1.5},{"s":"b1","t":"Rough","x":2,"y":-3},{"s":"b1","t":"Rough","x":2.5,"y":-4.2},{"s":"b1","t":"Rough","x":3,"y":-5.2},{"s":"b1","t":"Rough","x":4,"y":-6.5},{"s":"b1","t":"Rough","x":4.5,"y":-7.2},{"s":"b1","t":"Rough","x":5,"y":-7.8},{"s":"b1","t":"Rough","x":6,"y":-8.7},{"s":"b1","t":"Rough","x":7,"y":-10},{"s":"b1","t":"Rough","x":8,"y":-12.4},{"s":"b1","t":"Rough","x":9,"y":-15},{"s":"b1","t":"Rough","x":10,"y":-20},
{"s":"b2","t":"Rough","x":0,"y":0},{"s":"b2","t":"Rough","x":1,"y":-0.5},{"s":"b2","t":"Rough","x":1.5,"y":-2},{"s":"b2","t":"Rough","x":2,"y":-3.5},{"s":"b2","t":"Rough","x":3,"y":-5.5},{"s":"b2","t":"Rough","x":4,"y":-7.2},{"s":"b2","t":"Rough","x":4.5,"y":-7.8},{"s":"b2","t":"Rough","x":5,"y":-8.3},{"s":"b2","t":"Rough","x":6,"y":-9},{"s":"b2","t":"Rough","x":7,"y":-10.5},{"s":"b2","t":"Rough","x":8,"y":-14},{"s":"b2","t":"Rough","x":9,"y":-20},{"s":"b2","t":"Rough","x":10,"y":-26.3},
{"s":"b3","t":"Rough","x":0,"y":0},{"s":"b3","t":"Rough","x":1,"y":-0.3},{"s":"b3","t":"Rough","x":1.5,"y":-2.5},{"s":"b3","t":"Rough","x":2,"y":-4},{"s":"b3","t":"Rough","x":3,"y":-6},{"s":"b3","t":"Rough","x":4,"y":-7.8},{"s":"b3","t":"Rough","x":4.5,"y":-8.5},{"s":"b3","t":"Rough","x":5,"y":-9},{"s":"b3","t":"Rough","x":6,"y":-10},{"s":"b3","t":"Rough","x":7,"y":-12},{"s":"b3","t":"Rough","x":8,"y":-14.2},{"s":"b3","t":"Rough","x":9,"y":-17.5},{"s":"b3","t":"Rough","x":10,"y":-23.8},
{"s":"b4","t":"Rough","x":0,"y":0},{"s":"b4","t":"Rough","x":1,"y":-0.5},{"s":"b4","t":"Rough","x":1.5,"y":-2.8},{"s":"b4","t":"Rough","x":2,"y":-4.5},{"s":"b4","t":"Rough","x":3,"y":-6.5},{"s":"b4","t":"Rough","x":4,"y":-8.3},{"s":"b4","t":"Rough","x":5,"y":-9.3},{"s":"b4","t":"Rough","x":6,"y":-10},{"s":"b4","t":"Rough","x":7,"y":-11.5},{"s":"b4","t":"Rough","x":8,"y":-14},{"s":"b4","t":"Rough","x":9,"y":-17.5},{"s":"b4","t":"Rough","x":10,"y":-20.5},
{"s":"b5","t":"Rough","x":0,"y":0},{"s":"b5","t":"Rough","x":1,"y":-1},{"s":"b5","t":"Rough","x":1.7,"y":-3.5},{"s":"b5","t":"Rough","x":2,"y":-4},{"s":"b5","t":"Rough","x":3,"y":-6},{"s":"b5","t":"Rough","x":4,"y":-7.5},{"s":"b5","t":"Rough","x":5,"y":-8.5},{"s":"b5","t":"Rough","x":6,"y":-9.5},{"s":"b5","t":"Rough","x":7,"y":-11},{"s":"b5","t":"Rough","x":8,"y":-13},{"s":"b5","t":"Rough","x":9,"y":-16},{"s":"b5","t":"Rough","x":10,"y":-21.5}
]
},
"columns":1,
"align":"none",
"spacing":8,
"resolve":{"scale":{"x":"independent","y":"independent","strokeDash":"independent"},"legend":{"strokeDash":"independent"}},
"concat":[
{"title":"(a) Gauge no.2","width":465,"height":179,"data":{"name":"p1"},
"layer":[
{"mark":{"type":"line"},"encoding":{
"x":{"field":"x","type":"quantitative","scale":{"domain":[0,10],"nice":false},"axis":{"values":[0,2,4,6,8,10],"title":"Grip force [gf]","titlePadding":2}},
"y":{"field":"y","type":"quantitative","scale":{"domain":[-2,3],"nice":false},"axis":{"values":[-2,-1,0,1,2,3],"title":"ε [μstrain]","titlePadding":0,"minExtent":28,"maxExtent":28}},
"detail":{"field":"s"},
"strokeDash":{"field":"t","type":"nominal","scale":{"domain":["Slippery","Rough"],"range":[[1,0],[6,4]]},"legend":{"orient":"none","legendX":37,"legendY":13,"title":null,"padding":0,"symbolType":"stroke","symbolSize":900,"symbolStrokeWidth":1,"symbolStrokeColor":"black","labelFont":"Liberation Serif","labelFontSize":17,"labelColor":"black","labelOffset":8,"clipHeight":15,"rowPadding":2}}}},
{"mark":{"type":"point","opacity":0},"encoding":{
"x":{"field":"x","type":"quantitative","scale":{"domain":[0,10],"nice":false},"axis":{"orient":"top","labels":false,"title":null,"values":[0,2,4,6,8,10]}},
"y":{"field":"y","type":"quantitative","scale":{"domain":[-2,3],"nice":false},"axis":{"orient":"right","labels":false,"title":null,"values":[-2,-1,0,1,2,3]}}}}
],
"resolve":{"axis":{"x":"independent","y":"independent"}}},
{"title":"(b) Gauge no.3","width":465,"height":178,"data":{"name":"p2"},
"layer":[
{"mark":{"type":"line"},"encoding":{
"x":{"field":"x","type":"quantitative","scale":{"domain":[0,10],"nice":false},"axis":{"values":[0,2,4,6,8,10],"title":"Grip force [gf]","titlePadding":2}},
"y":{"field":"y","type":"quantitative","scale":{"domain":[-5,25],"nice":false},"axis":{"values":[-5,0,5,10,15,20,25],"title":"ε [μstrain]","titlePadding":0,"minExtent":28,"maxExtent":28}},
"detail":{"field":"s"},
"strokeDash":{"field":"t","type":"nominal","scale":{"domain":["Slippery","Rough"],"range":[[1,0],[6,4]]},"legend":null}}},
{"mark":{"type":"point","opacity":0},"encoding":{
"x":{"field":"x","type":"quantitative","scale":{"domain":[0,10],"nice":false},"axis":{"orient":"top","labels":false,"title":null,"values":[0,2,4,6,8,10]}},
"y":{"field":"y","type":"quantitative","scale":{"domain":[-5,25],"nice":false},"axis":{"orient":"right","labels":false,"title":null,"values":[-5,0,5,10,15,20,25]}}}}
],
"resolve":{"axis":{"x":"independent","y":"independent"}}},
{"title":"(c) Gauge no.4","width":467,"height":178,"data":{"name":"p3"},
"layer":[
{"mark":{"type":"line"},"encoding":{
"x":{"field":"x","type":"quantitative","scale":{"domain":[0,10],"nice":false},"axis":{"values":[0,2,4,6,8,10],"title":"Grip force [gf]","titlePadding":2}},
"y":{"field":"y","type":"quantitative","scale":{"domain":[-10,50],"nice":false},"axis":{"values":[-10,0,10,20,30,40,50],"title":"ε [μstrain]","titlePadding":0,"minExtent":32,"maxExtent":32}},
"detail":{"field":"s"},
"strokeDash":{"field":"t","type":"nominal","scale":{"domain":["Slippery","Rough"],"range":[[1,0],[6,4]]},"legend":null}}},
{"mark":{"type":"point","opacity":0},"encoding":{
"x":{"field":"x","type":"quantitative","scale":{"domain":[0,10],"nice":false},"axis":{"orient":"top","labels":false,"title":null,"values":[0,2,4,6,8,10]}},
"y":{"field":"y","type":"quantitative","scale":{"domain":[-10,50],"nice":false},"axis":{"orient":"right","labels":false,"title":null,"values":[-10,0,10,20,30,40,50]}}}}
],
"resolve":{"axis":{"x":"independent","y":"independent"}}},
{"title":"(d) Gauge no.5","width":471,"height":182,"data":{"name":"p4"},
"layer":[
{"mark":{"type":"line"},"encoding":{
"x":{"field":"x","type":"quantitative","scale":{"domain":[0,10],"nice":false},"axis":{"values":[0,2,4,6,8,10],"title":"Grip force [gf]","titlePadding":2}},
"y":{"field":"y","type":"quantitative","scale":{"domain":[-30,10],"nice":false},"axis":{"values":[-30,-20,-10,0,10],"title":"ε [μstrain]","titlePadding":0,"minExtent":30,"maxExtent":30}},
"detail":{"field":"s"},
"strokeDash":{"field":"t","type":"nominal","scale":{"domain":["Slippery","Rough"],"range":[[1,0],[6,4]]},"legend":null}}},
{"mark":{"type":"point","opacity":0},"encoding":{
"x":{"field":"x","type":"quantitative","scale":{"domain":[0,10],"nice":false},"axis":{"orient":"top","labels":false,"title":null,"values":[0,2,4,6,8,10]}},
"y":{"field":"y","type":"quantitative","scale":{"domain":[-30,10],"nice":false},"axis":{"orient":"right","labels":false,"title":null,"values":[-30,-20,-10,0,10]}}}}
],
"resolve":{"axis":{"x":"independent","y":"independent"}}}
]
}
